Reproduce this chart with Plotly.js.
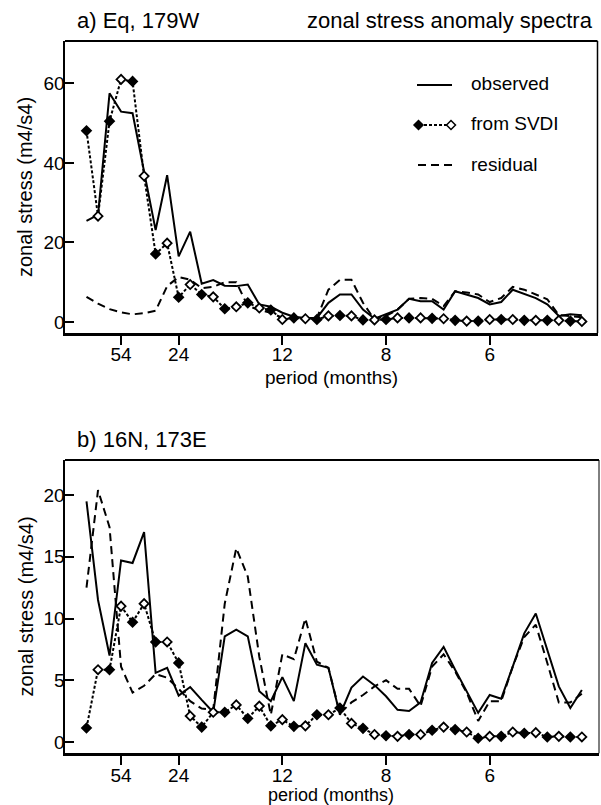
<!DOCTYPE html>
<html>
<head>
<meta charset="utf-8">
<script src="https://cdn.plot.ly/plotly-3.0.1.min.js"></script>
<style>html,body{margin:0;padding:0;background:#fff;}#chart{width:601px;height:805px;}</style>
</head>
<body>
<div id="chart"></div>
<script>
// ---- data ----
const recordLength = 216; // months; harmonic k has period recordLength/k
const periodTicks = [54, 24, 12, 8, 6];
const harmonic = [1,2,3,4,5,6,7,8,9,10,11,12,13,14,15,16,17,18,19,20,21,22,
                  23,24,25,26,27,28,29,30,31,32,33,34,35,36,37,38,39,40,41,42,43,44];

// panel a) Eq, 179W
const observedA = [25.4,26.9,57.5,52.9,52.5,38.0,23.1,36.9,16.5,22.7,9.6,10.5,9.1,9.0,9.4,4.4,3.8,2.3,1.3,1.0,1.0,4.8,
                   6.9,6.9,3.1,0.8,2.0,3.1,5.8,5.2,5.2,3.1,7.7,6.9,6.0,4.4,5.0,8.1,7.1,6.0,4.4,1.5,1.9,1.7];
const svdiA     = [48.1,26.6,50.5,61.0,60.5,36.7,17.1,19.8,6.2,9.4,6.9,6.3,3.3,3.8,4.8,3.5,3.0,0.6,1.0,0.8,0.6,1.5,
                   1.6,1.5,0.5,0.5,0.6,1.0,1.0,1.0,0.9,0.8,0.4,0.2,0.2,0.6,0.6,0.6,0.4,0.4,0.4,0.4,0.2,0.1];
const residualA = [6.3,4.6,3.2,2.4,1.9,2.2,2.8,9.0,11.3,10.6,8.5,8.8,10.0,10.0,4.0,3.0,2.3,1.0,0.8,0.6,1.0,8.1,
                   10.6,10.6,4.8,0.6,1.5,3.1,5.8,6.0,5.8,4.0,7.7,7.4,6.9,5.0,6.0,8.8,8.1,6.9,5.7,1.7,1.5,1.2];

// panel b) 16N, 173E
const observedB = [19.5,11.5,7.0,14.7,14.5,17.0,5.6,6.0,3.75,4.45,3.4,2.4,8.55,9.1,8.55,4.1,3.3,5.25,3.3,8.0,6.25,6.0,
                   2.2,4.4,5.3,4.6,3.7,2.6,2.5,3.2,6.4,7.7,5.85,4.1,2.35,3.8,3.5,6.1,8.8,10.4,7.5,4.5,2.75,4.2];
const svdiB     = [1.13,5.85,5.85,11.0,9.7,11.2,8.1,8.1,6.4,2.1,1.2,2.4,2.4,3.0,1.9,2.9,1.3,1.8,1.26,1.3,2.2,2.2,
                   2.75,1.5,1.1,0.6,0.5,0.45,0.6,0.6,0.94,1.2,1.0,0.8,0.3,0.45,0.45,0.8,0.7,0.75,0.4,0.45,0.4,0.4];
const residualB = [12.5,20.4,17.4,6.1,4.0,4.55,5.5,5.2,4.3,3.3,2.7,2.6,11.2,15.7,13.4,6.9,2.2,7.1,6.7,10.0,6.5,6.0,
                   2.3,3.2,3.8,4.5,5.0,4.3,4.3,2.9,6.1,7.1,5.7,4.0,1.7,3.3,3.3,6.1,8.5,9.5,6.4,3.2,3.2,3.9];

const seriesNames = ['observed', 'from SVDI', 'residual'];
const panelTitles = ['a) Eq, 179W', 'b) 16N, 173E'];
const mainTitle = 'zonal stress anomaly spectra';
const xTitle = 'period (months)';
const yTitle = 'zonal stress (m4/s4)';

// ---- styling / layout helpers ----
const W = 601, H = 805;
const FONT = 'Liberation Sans, Arial, Helvetica, sans-serif';
const X = px => px / W;
const Y = py => 1 - py / H;
const fills = harmonic.map((k, i) => (i % 2 === 0 ? 'black' : 'white'));

function traces(obs, svdi, res, xa, ya) {
  return [
    {x: harmonic, y: res, xaxis: xa, yaxis: ya, type: 'scatter', mode: 'lines', name: seriesNames[2],
     line: {color: 'black', width: 2, dash: '8px,5px'}, showlegend: false, hoverinfo: 'skip'},
    {x: harmonic, y: obs, xaxis: xa, yaxis: ya, type: 'scatter', mode: 'lines', name: seriesNames[0],
     line: {color: 'black', width: 2}, showlegend: false, hoverinfo: 'skip'},
    {x: harmonic, y: svdi, xaxis: xa, yaxis: ya, type: 'scatter', mode: 'lines+markers', name: seriesNames[1],
     line: {color: 'black', width: 2, dash: '3px,2px'},
     marker: {symbol: 'diamond', size: 7, color: fills, line: {color: 'black', width: 1.8}},
     showlegend: false, hoverinfo: 'skip'}
  ];
}

const data = [].concat(
  traces(observedA, svdiA, residualA, 'x', 'y'),
  traces(observedB, svdiB, residualB, 'x2', 'y2')
);

const tickvals = periodTicks.map(p => recordLength / p);
const ticktext = periodTicks.map(String);

// pixel geometry
const k1px = 86.5, kstep = 11.52;
const xRange = (l, r) => [1 + (l - k1px) / kstep, 1 + (r - k1px) / kstep];

function xaxis(domain, range, anchor) {
  return {domain, range, anchor, tickvals, ticktext, ticks: 'outside', ticklen: 9, tickwidth: 2,
          tickcolor: 'black', showline: true, linewidth: 2.5, linecolor: 'black', showgrid: false,
          zeroline: false, ticklabelstandoff: -6,
          tickfont: {family: FONT, size: 19, color: 'black'}, fixedrange: true};
}
function yaxis(domain, range, anchor, tv) {
  return {domain, range, anchor, tickvals: tv, ticks: 'inside', ticklen: 9, tickwidth: 2,
          tickcolor: 'black', showline: true, linewidth: 2.5, linecolor: 'black', showgrid: false,
          zeroline: false, ticklabelstandoff: -6,
          tickfont: {family: FONT, size: 19, color: 'black'}, fixedrange: true};
}

// panel a: px box 65..597.5 x 41..333 ; y: 0 at 321.9, 3.975 px/unit
// panel b: px box 65..599 x 460..753.3 ; y: 0 at 741.9, 12.34 px/unit
const layout = {
  width: W, height: H,
  margin: {l: 0, r: 0, t: 0, b: 0},
  paper_bgcolor: 'white', plot_bgcolor: 'white',
  showlegend: false,
  font: {family: FONT, color: 'black'},
  xaxis: xaxis([X(65), X(597.5)], xRange(65, 597.5), 'y'),
  yaxis: yaxis([Y(333), Y(41)], [(321.9 - 333) / 3.975, (321.9 - 41) / 3.975], 'x', [0, 20, 40, 60]),
  xaxis2: xaxis([X(65), X(599)], xRange(65, 599), 'y2'),
  yaxis2: yaxis([Y(753.3), Y(460)], [(741.9 - 753.3) / 12.34, (741.9 - 460) / 12.34], 'x2', [0, 5, 10, 15, 20]),
  annotations: [
    {text: panelTitles[0], xref: 'paper', yref: 'paper', x: X(75), y: Y(20), xanchor: 'left', yanchor: 'middle',
     showarrow: false, font: {size: 22}},
    {text: mainTitle, xref: 'paper', yref: 'paper', x: X(595), y: Y(20), xanchor: 'right', yanchor: 'middle',
     showarrow: false, font: {size: 22}},
    {text: panelTitles[1], xref: 'paper', yref: 'paper', x: X(75), y: Y(439.5), xanchor: 'left', yanchor: 'middle',
     showarrow: false, font: {size: 22}},
    {text: yTitle, xref: 'paper', yref: 'paper', x: X(25), y: Y(187), xanchor: 'center', yanchor: 'middle',
     textangle: -90, showarrow: false, font: {size: 20}},
    {text: yTitle, xref: 'paper', yref: 'paper', x: X(25), y: Y(606.5), xanchor: 'center', yanchor: 'middle',
     textangle: -90, showarrow: false, font: {size: 20}},
    {text: xTitle, xref: 'paper', yref: 'paper', x: X(331), y: Y(378), xanchor: 'center', yanchor: 'middle',
     showarrow: false, font: {size: 19}},
    {text: xTitle, xref: 'paper', yref: 'paper', x: X(331), y: Y(795), xanchor: 'center', yanchor: 'middle',
     showarrow: false, font: {size: 18}},
    {text: seriesNames[0], xref: 'paper', yref: 'paper', x: X(469), y: Y(84), xanchor: 'left', yanchor: 'middle',
     showarrow: false, font: {size: 19}},
    {text: seriesNames[1], xref: 'paper', yref: 'paper', x: X(469), y: Y(124), xanchor: 'left', yanchor: 'middle',
     showarrow: false, font: {size: 19}},
    {text: seriesNames[2], xref: 'paper', yref: 'paper', x: X(469), y: Y(164), xanchor: 'left', yanchor: 'middle',
     showarrow: false, font: {size: 19}}
  ],
  shapes: []
};

function pline(x0, y0, x1, y1, width, dash) {
  return {type: 'line', xref: 'paper', yref: 'paper', x0: X(x0), y0: Y(y0), x1: X(x1), y1: Y(y1),
          line: {color: 'black', width, dash: dash || 'solid'}};
}
function diamond(cx, cy, r, fill) {
  const p = `M${X(cx - r)},${Y(cy)} L${X(cx)},${Y(cy - r)} L${X(cx + r)},${Y(cy)} L${X(cx)},${Y(cy + r)} Z`;
  return {type: 'path', xref: 'paper', yref: 'paper', path: p, fillcolor: fill, line: {color: 'black', width: 1.5}};
}
// frame top / right
layout.shapes.push(pline(65, 41, 597.5, 41, 2));
layout.shapes.push(pline(597.5, 41, 597.5, 333, 1.5));
layout.shapes.push(pline(65, 460, 599, 460, 2));
layout.shapes.push(pline(599, 460, 599, 753.3, 1));
// legend samples
layout.shapes.push(pline(417, 85, 452, 85, 2));
layout.shapes.push(pline(419, 125, 450, 125, 2, '3px,2px'));
layout.shapes.push(diamond(418.5, 125, 4.5, 'black'));
layout.shapes.push(diamond(451, 125, 4.5, 'white'));
layout.shapes.push(pline(418, 165, 452, 165, 2, '8px,5px'));

Plotly.newPlot('chart', data, layout, {staticPlot: true, displayModeBar: false});
</script>
</body>
</html>
